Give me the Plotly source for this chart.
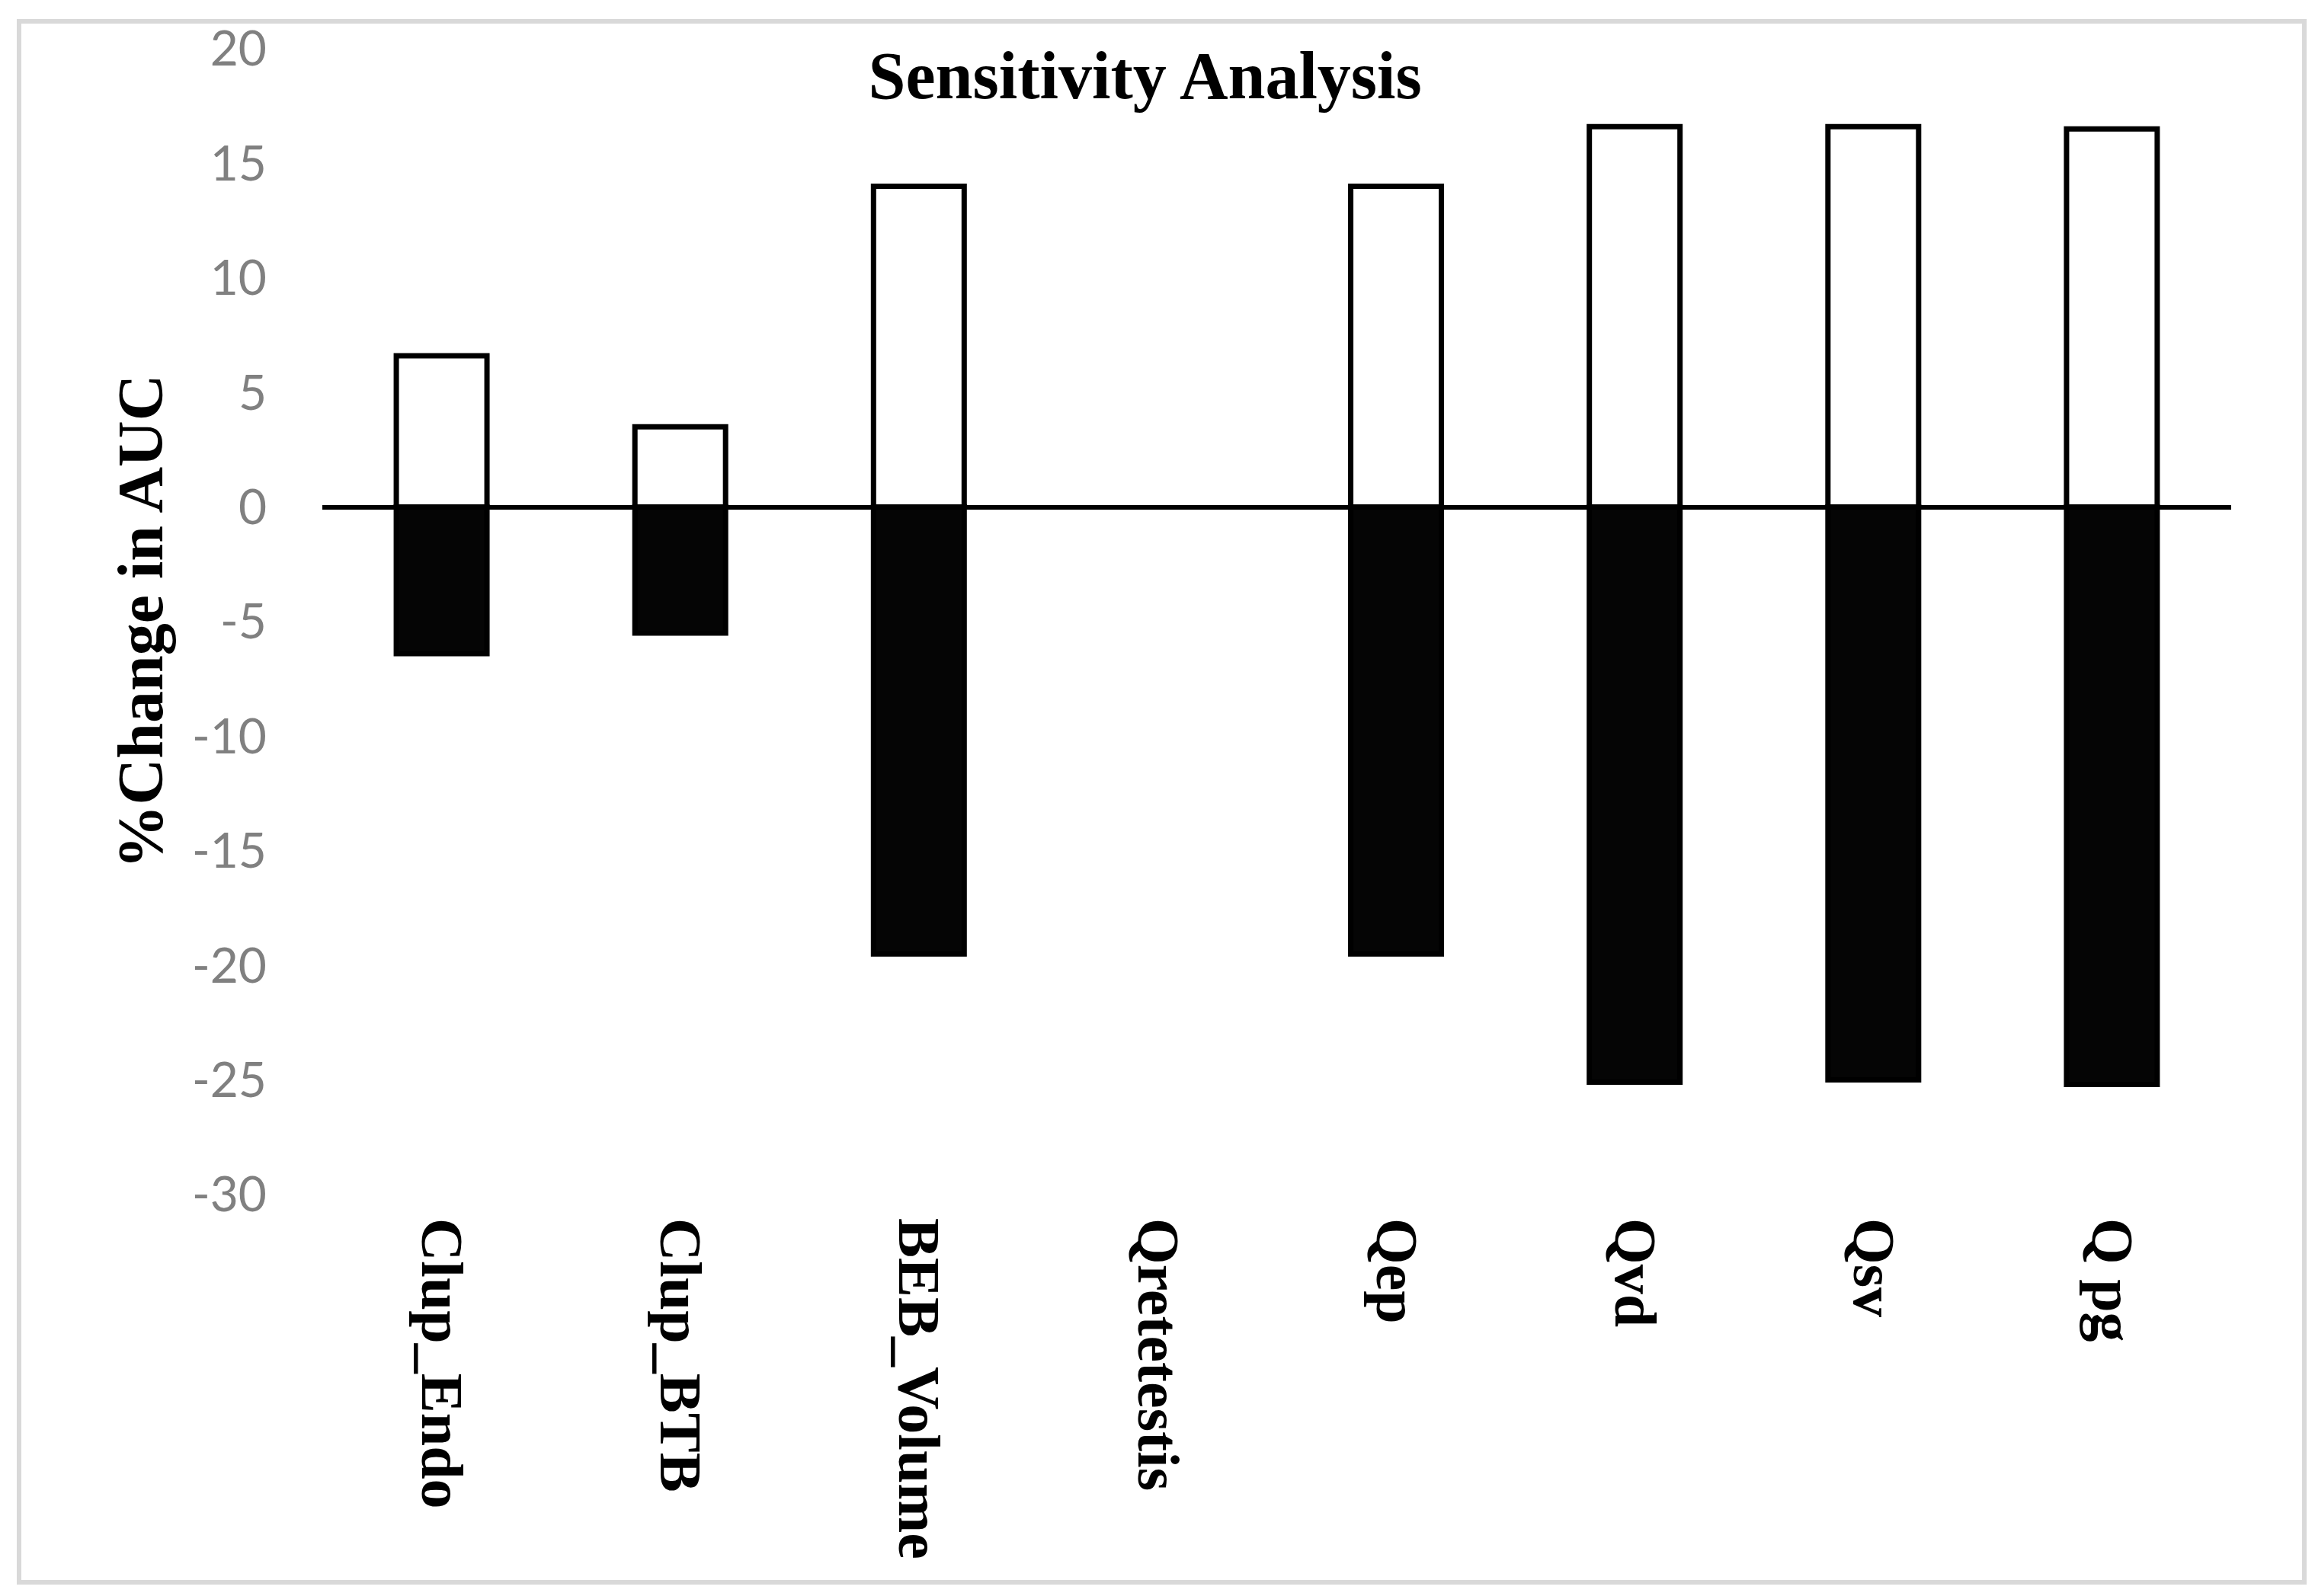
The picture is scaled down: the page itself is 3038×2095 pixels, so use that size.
import plotly.graph_objects as go

categories = ["Clup_Endo", "Clup_BTB", "BEB_Volume", "Qretetestis", "Qep", "Qvd", "Qsv", "Q pg"]
increase_values = [6.6, 3.5, 14.0, 0.0, 14.0, 16.6, 16.6, 16.5]
decrease_values = [-6.4, -5.5, -19.5, 0.0, -19.5, -25.1, -25.0, -25.2]
y_ticks = [20, 15, 10, 5, 0, -5, -10, -15, -20, -25, -30]
y_tick_labels = ["20", "15", "10", "5", "0", "-5", "-10", "-15", "-20", "-25", "-30"]

W, H = 3038, 2095
L, R, T, B = 415, 118, 56, 535

serif = "Liberation Serif, Times New Roman, serif"

def outline_widths(vals):
    return [7 if v != 0 else 0 for v in vals]

fig = go.Figure()
fig.add_trace(go.Bar(
    x=categories, y=increase_values, name="Increase",
    marker=dict(color="white", line=dict(color="black", width=outline_widths(increase_values))),
    width=0.38,
))
fig.add_trace(go.Bar(
    x=categories, y=decrease_values, name="Decrease",
    marker=dict(color="#050505", line=dict(color="black", width=outline_widths(decrease_values))),
    width=0.38,
))

# outer light-grey frame around the whole chart
px0, px1, py0, py1 = 17, 3016, 20, 2069
pw, ph = W - L - R, H - T - B
fig.add_shape(
    type="rect", xref="paper", yref="paper",
    x0=(px0 - L) / pw, x1=(px1 - L) / pw,
    y0=(H - B - py1) / ph, y1=(H - B - py0) / ph,
    line=dict(color="#d9d9d9", width=6), fillcolor="rgba(0,0,0,0)", layer="below",
)

fig.update_layout(
    width=W, height=H,
    margin=dict(l=L, r=R, t=T, b=B),
    paper_bgcolor="white", plot_bgcolor="white",
    barmode="relative",
    showlegend=False,
    title=dict(
        text="<b>Sensitivity Analysis</b>",
        font=dict(family=serif, size=88, color="black"),
        x=0.492, xanchor="center", xref="container",
        y=1 - 90 / H, yanchor="middle", yref="container",
    ),
    xaxis=dict(
        type="category",
        tickangle=90,
        tickfont=dict(family=serif, size=78, color="black", weight="bold"),
        showgrid=False, showline=False, ticks="",
        ticklabelstandoff=30,
    ),
    yaxis=dict(
        range=[-30, 20],
        tickvals=y_ticks,
        ticktext=y_tick_labels,
        tickfont=dict(family="Lato, Carlito, sans-serif", size=64, color="#808080"),
        showgrid=False, showline=False, ticks="",
        zeroline=True, zerolinecolor="black", zerolinewidth=6,
        ticklabelstandoff=72,
        title=dict(
            text="<b>%Change in AUC</b>",
            font=dict(family=serif, size=84, color="black"),
            standoff=10,
        ),
    ),
)

fig.write_html("out.html")
